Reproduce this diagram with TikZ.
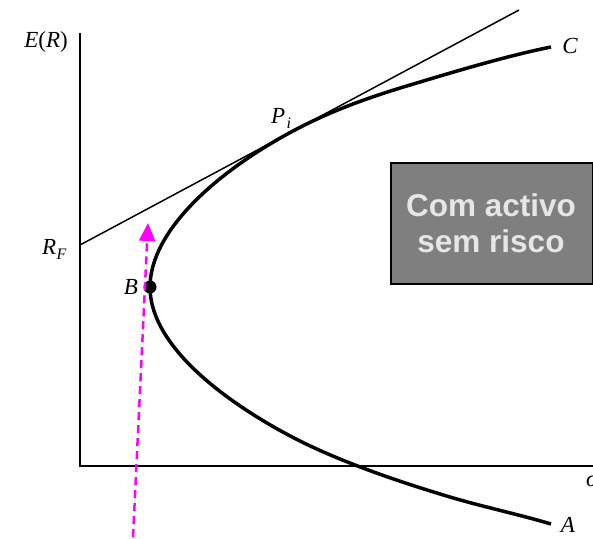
\documentclass[tikz,border=0pt]{standalone}
\usepackage{fontspec}
\setmainfont{Liberation Serif}
\newfontfamily\boxfont{Liberation Sans}
\usetikzlibrary{arrows.meta}
\definecolor{boxgray}{HTML}{7F7F7F}
\definecolor{boxtext}{HTML}{E6E6E6}
\definecolor{mag}{HTML}{FF00FF}
\begin{document}
\begin{tikzpicture}[x=1pt,y=-1pt,
  lbl/.style={font=\fontsize{23}{27}\selectfont\itshape, inner sep=0pt},
  sublbl/.style={font=\fontsize{16}{19}\selectfont\itshape, inner sep=0pt},
  axis/.style={line width=2pt},
  frontier/.style={line width=3.5pt, line join=round},
  tangentline/.style={line width=1.5pt},
  boxtxt/.style={font=\boxfont\bfseries\fontsize{31.5}{37}\selectfont, text=boxtext, inner sep=0pt, anchor=base}]
\useasboundingbox (0,0) rectangle (593,538);
% axes
\coordinate (ytop) at (80,33);
\coordinate (orig) at (80,466);
\coordinate (xend) at (600,466);
\draw[axis] (ytop) -- (orig) -- (xend);
% tangent line
\coordinate (RF) at (80,245);
\coordinate (tanend) at (519,10);
\draw[tangentline] (RF) -- (tanend);
% frontier
\coordinate (B) at (150,287);
\coordinate (C) at (551,47);
\coordinate (Q) at (410,85);
\coordinate (T) at (293,131);
\coordinate (L2) at (300,441);
\coordinate (L3) at (450,497);
\coordinate (A) at (551,524);
\draw[frontier] (C) .. controls (506.9,55.8) and (453.1,72.1) .. (Q)
  .. controls (371.7,96.5) and (332.7,109.8) .. (T)
  .. controls (214.8,172.7) and (150,232) .. (B)
  .. controls (150,362) and (270.5,426.3) .. (L2)
  .. controls (344.7,463.4) and (402.1,482.7) .. (L3)
  .. controls (483.5,507) and (517.5,514) .. (A);
\fill (B) circle[radius=6.5pt];
% labels
\node[lbl] (ER) at (46,42) {E\upshape(\itshape R\upshape)};
\node[lbl, anchor=base west] (RFl) at (42,254) {R};
\node[sublbl, anchor=base west] (RFs) at (RFl.base east) [yshift=-5pt] {F};
\node[lbl] (Bl) at (131,287) {B};
\node[lbl, anchor=base west] (Pl) at (271,123) {P};
\node[sublbl, anchor=base west] (Ps) at (Pl.base east) [yshift=-5pt, xshift=1pt] {i};
\node[lbl] (Cl) at (570,46) {C};
\node[lbl] (Al) at (568,525) {A};
\node[lbl, anchor=base west] (sig) at (586,486) {σ};
% box
\node[draw=black, line width=1.5pt, fill=boxgray, minimum width=202pt, minimum height=121pt, anchor=north west, inner sep=0pt] (box) at (390,162) {};
\node[boxtxt] (t1) at (491,216) {Com activo};
\node[boxtxt] (t2) at (491,252) {sem risco};
% magenta arrow
\coordinate (mstart) at (133,537);
\coordinate (mtip) at (148,223);
\draw[mag, line width=2.5pt, dash pattern=on 8pt off 5pt, -{Triangle[length=18pt,width=16pt]}] (mstart) -- (mtip);
\end{tikzpicture}
\end{document}
